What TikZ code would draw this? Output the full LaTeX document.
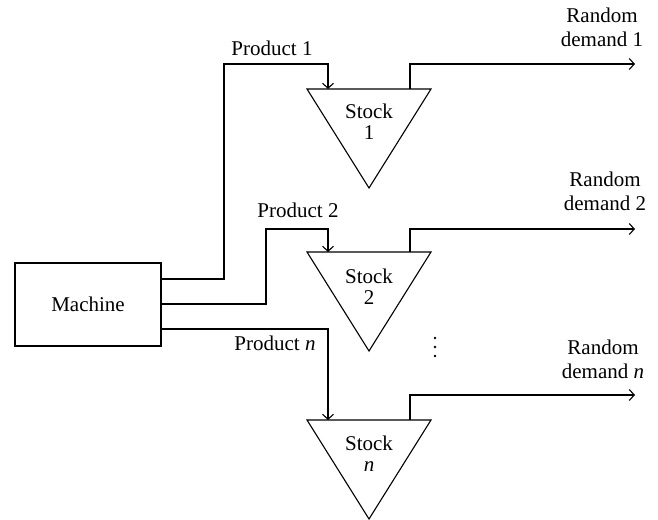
\documentclass[tikz,border=0pt]{standalone}
\usepackage{fontspec}
\setmainfont{Liberation Serif}
\usetikzlibrary{arrows.meta}
\begin{document}
\begin{tikzpicture}[x=1pt,y=-1pt,
  line width=1.1pt,
  flow/.style={draw,-{Straight Barb[length=5pt,width=11pt,line width=1.1pt]}},
  lbl/.style={font=\fontsize{21}{24}\selectfont,inner sep=0pt,anchor=base,align=center},
  slbl/.style={font=\fontsize{21}{21}\selectfont,inner sep=0pt,anchor=base,align=center},
  machbox/.style={draw,minimum width=146pt,minimum height=83pt,inner sep=0pt,font=\fontsize{21}{24}\selectfont}]
\useasboundingbox (0,0) rectangle (658,519);
% machine
\node[machbox] (mach) at (88,304.5) {Machine};
% triangles
\foreach \n/\t in {1/89,2/252,3/420}{
  \coordinate (tl\n) at (307,\t);
  \coordinate (tr\n) at (431,\t);
  \coordinate (ap\n) at (369,\t+99);
  \coordinate (in\n) at (328,\t);
  \coordinate (out\n) at (410,\t);
  \draw (tl\n) -- (tr\n) -- (ap\n) -- cycle;
}
\node[slbl] (s1) at (369,139) {Stock\\1};
\node[slbl] (s2) at (369,304) {Stock\\2};
\node[slbl] (s3) at (369,471) {Stock\\\textit{n}};
% product flows
\coordinate (m1) at (161,279);
\coordinate (m2) at (161,304);
\coordinate (m3) at (161,329);
\draw[flow] (m1) -- (224,279) -- (224,64) -- (328,64) -- (in1);
\draw[flow] (m2) -- (266,304) -- (266,229) -- (328,229) -- (in2);
\draw[flow] (m3) -- (328,329) -- (in3);
\node[lbl] (p1) at (272,56) {Product 1};
\node[lbl] (p2) at (298,217) {Product 2};
\node[lbl] (p3) at (275,350) {Product \textit{n}};
% demand flows
\coordinate (d1) at (635,64);
\coordinate (d2) at (635,229);
\coordinate (d3) at (635,395);
\draw[flow] (out1) -- (410,64) -- (d1);
\draw[flow] (out2) -- (410,229) -- (d2);
\draw[flow] (out3) -- (410,395) -- (d3);
\node[lbl] (r1) at (602,47) {Random\\demand 1};
\node[lbl] (r2) at (605,210) {Random\\demand 2};
\node[lbl] (r3) at (603,378) {Random\\demand \textit{n}};
% vdots
\foreach \y in {338,347,356} \fill (435,\y) circle (1.3);
\end{tikzpicture}
\end{document}
